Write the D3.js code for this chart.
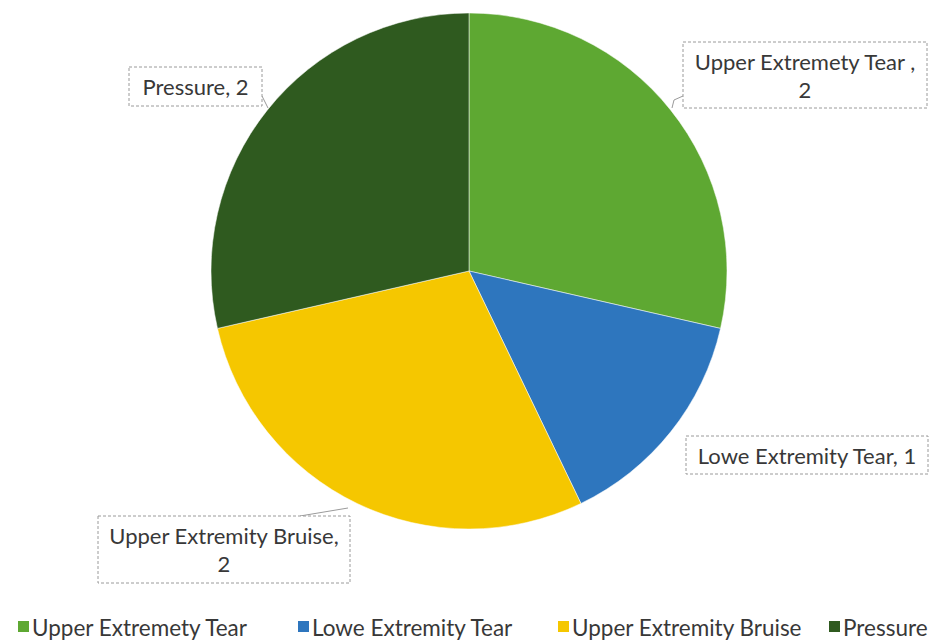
<!DOCTYPE html>
<html><head><meta charset="utf-8">
<script src="https://cdn.jsdelivr.net/npm/d3@7"></script>
<style>body{margin:0;background:#fff}svg{display:block}</style>
</head><body>
<svg id="c" width="945" height="641"></svg>
<script>
const categories = ["Upper Extremety Tear", "Lowe Extremity Tear", "Upper Extremity Bruise", "Pressure"];
const values = [2, 1, 2, 2];
const labelLines = [["Upper Extremety Tear ,", "2"], ["Lowe Extremity Tear, 1"], ["Upper Extremity Bruise,", "2"], ["Pressure, 2"]];
const colors = ["#5ea832", "#2e76be", "#f5c700", "#2f5a1f"];

const svg = d3.select("#c");
const cx = 469, cy = 271, R = 258;
const font = "Lato, 'Open Sans', sans-serif";
const data = categories.map((c, i) => ({ c, v: values[i], i }));
const pie = d3.pie().value(d => d.v).sort(null);
const arcs = pie(data);
const arc = d3.arc().innerRadius(0).outerRadius(R);
const g = svg.append("g").attr("transform", `translate(${cx},${cy})`);
g.selectAll("path").data(arcs).join("path")
  .attr("d", arc).attr("fill", d => colors[d.data.i])
  .attr("stroke", "#fff").attr("stroke-width", 0.5);

const boxes = [
  { x: 683, y: 42, w: 244, h: 66, lead: [[683, 96], [674, 100], [672, 108]] },
  { x: 686, y: 436, w: 242, h: 38, lead: null },
  { x: 98, y: 516, w: 252, h: 67, lead: [[300, 516], [348, 508]] },
  { x: 129, y: 67, w: 133, h: 39, lead: [[262, 96], [268, 108]] }
];
boxes.forEach((b, i) => {
  if (b.lead) {
    svg.append("path").attr("d", d3.line()(b.lead)).attr("fill", "none")
      .attr("stroke", "#9a9a9a").attr("stroke-width", 1);
  }
  svg.append("rect").attr("x", b.x).attr("y", b.y).attr("width", b.w).attr("height", b.h)
    .attr("fill", "#fff").attr("stroke", "#9a9a9a").attr("stroke-width", 1).attr("stroke-dasharray", "3,2");
  const lines = labelLines[i];
  const lh = 28;
  const y0 = b.y + b.h / 2 - (lines.length - 1) * lh / 2;
  lines.forEach((t, k) => {
    svg.append("text").attr("x", b.x + b.w / 2).attr("y", y0 + k * lh)
      .attr("text-anchor", "middle").attr("dominant-baseline", "central")
      .attr("font-family", font).attr("font-size", 22).attr("fill", "#383838").text(t);
  });
});

const legX = [18, 298, 558, 829];
const lg = svg.append("g");
categories.forEach((c, i) => {
  lg.append("rect").attr("x", legX[i]).attr("y", 621).attr("width", 11).attr("height", 11).attr("fill", colors[i]);
  lg.append("text").attr("x", legX[i] + 14).attr("y", 627).attr("dominant-baseline", "central")
    .attr("font-family", font).attr("font-size", 22.5).attr("fill", "#383838").text(c);
});
</script>
</body></html>
